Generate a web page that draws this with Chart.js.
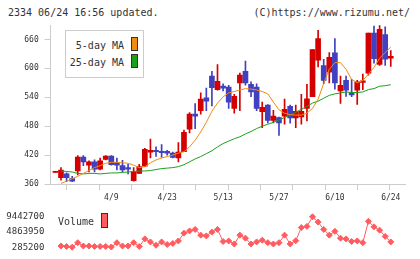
<!DOCTYPE html>
<html>
<head>
<meta charset="utf-8">
<script src="https://cdn.jsdelivr.net/npm/chart.js@4.4.1/dist/chart.umd.min.js"></script>
<style>
  body { margin: 0; background: #fff; font-family: "DejaVu Sans Mono", monospace; color: #333; }
  #wrap { position: relative; width: 420px; height: 259px; overflow: hidden; }
  canvas { position: absolute; left: 0; }
  #priceChart { top: 0; }
  #volumeChart { top: 205px; }
  .txt { position: absolute; font-size: 10px; line-height: 12px; white-space: pre; }
  #legend { position: absolute; left: 65px; top: 30px; width: 79px; height: 48px; box-sizing: border-box;
            border: 1px solid #ccc; background: #fff; }
  .swatch { position: absolute; box-sizing: border-box; border: 1px solid #333; }
</style>
</head>
<body>
<div id="wrap">
  <div class="txt" style="left:8px;top:7px">2334 06/24 16:56 updated.</div>
  <div class="txt" style="right:10px;top:7px">(C)https://www.rizumu.net/</div>
  <canvas id="priceChart" width="420" height="205"></canvas>
  <canvas id="volumeChart" width="420" height="54"></canvas>
  <div id="legend"></div>
  <div id="volLegend"></div>
</div>
<script>
// trading days (first one only shows as a doji stub)
const dates = ["3/26", "3/27", "3/28", "3/29", "4/1", "4/2", "4/3", "4/4", "4/5", "4/8", "4/9",
  "4/10", "4/11", "4/12", "4/15", "4/16", "4/17", "4/18", "4/19", "4/22", "4/23",
  "4/24", "4/25", "4/26", "4/30", "5/1", "5/2", "5/7", "5/8", "5/9", "5/13",
  "5/14", "5/15", "5/16", "5/17", "5/20", "5/21", "5/22", "5/23", "5/24", "5/27",
  "5/28", "5/29", "5/30", "5/31", "6/3", "6/4", "6/5", "6/6", "6/7", "6/10",
  "6/11", "6/12", "6/13", "6/14", "6/17", "6/18", "6/19", "6/20", "6/21", "6/24"];

const opens = [384, 373, 381, 371, 387, 416, 399, 406, 391, 411, 418,
  405, 398, 394, 367, 382, 397, 426, 430, 428, 428,
  424, 414, 427, 474, 505, 512, 539, 584, 556, 563,
  561, 517, 570, 594, 567, 561, 510, 524, 492, 498,
  501, 521, 497, 499, 517, 541, 617, 606, 592, 632,
  553, 575, 549, 555, 571, 590, 673, 608, 670, 621];
const highs = [384, 394, 383, 376, 419, 419, 408, 410, 414, 419, 419,
  414, 409, 401, 394, 401, 434, 453, 437, 442, 430,
  426, 446, 472, 508, 527, 549, 559, 594, 608, 568,
  565, 546, 590, 615, 572, 568, 530, 525, 513, 499,
  536, 524, 524, 546, 567, 639, 679, 619, 633, 662,
  584, 584, 577, 575, 588, 673, 688, 689, 686, 637];
const lows = [384, 368, 365, 365, 379, 398, 385, 385, 389, 410, 399,
  389, 385, 381, 366, 382, 396, 414, 417, 415, 420,
  414, 406, 427, 466, 475, 505, 512, 522, 555, 553,
  517, 507, 512, 565, 541, 512, 477, 487, 487, 461,
  484, 486, 477, 484, 491, 541, 603, 568, 570, 557,
  527, 542, 541, 525, 556, 586, 611, 606, 606, 604];
const closes = [384, 389, 373, 366, 416, 406, 406, 391, 408, 418, 400,
  399, 389, 391, 385, 396, 432, 430, 427, 425, 424,
  415, 426, 467, 505, 501, 536, 532, 560, 573, 559,
  530, 542, 586, 570, 551, 517, 519, 492, 501, 487,
  515, 497, 511, 511, 537, 639, 662, 575, 623, 570,
  565, 555, 545, 572, 574, 673, 620, 681, 619, 625];

const ma5 = [null, 361, 366, 371, 376, 382, 388, 394, 398, 403, 405,
  405, 404, 403, 399, 394, 396, 404, 410, 414, 417,
  420, 424, 427, 437, 451, 468, 488, 511, 528, 541,
  549, 552, 555, 558, 557, 555, 552, 547, 530, 514,
  507, 504, 503, 503, 507, 517, 536, 569, 598, 612,
  612, 598, 577, 570, 575, 588, 602, 621, 633, 644];
const ma25 = [null, 387, 386, 385, 382, 381, 382, 382, 381, 382, 383,
  383, 384, 385, 386, 387, 387, 388, 390, 392, 393,
  394, 396, 400, 406, 412, 417, 423, 429, 437, 444,
  449, 454, 458, 464, 469, 475, 480, 484, 488, 493,
  498, 503, 509, 515, 521, 528, 532, 538, 544, 547,
  549, 551, 550, 550, 551, 556, 558, 563, 564, 566];

const volumes = [null, 650000, 512000, 285200, 1648000, 649000, 649000, 512000, 512000, 512000, 353000,
  1648000, 649000, 649000, 1648000, 512000, 2784000, 1875000, 876000, 1875000, 1103000,
  1421000, 2171000, 4511000, 5193000, 5647000, 3920000, 3693000, 4829000, 5647000, 2012000,
  2171000, 1262000, 3920000, 3011000, 1262000, 1875000, 2398000, 1648000, 1262000, 1648000,
  3920000, 1262000, 2239000, 6192000, 6556000, 9442700, 7851000, 5647000, 3920000, 5056000,
  3011000, 2784000, 2012000, 2171000, 1648000, 8078000, 6419000, 5420000, 3534000, 1875000];

const priceTicks = [360, 420, 480, 540, 600, 660];
const volumeTicks = [285200, 4863950, 9442700];
const dateTickIndex = [10, 20, 30, 40, 50, 60];

const UP = "#d40000";
const DOWN = "#4040c0";
const FONT = "'DejaVu Sans Mono', monospace";
const NARROW = "'Liberation Sans Narrow', 'DejaVu Sans Mono', monospace";
const AXIS = "#cccccc";

// x range in candle units so the candles land where the original puts them
const X_MIN = -0.843;
const X_MAX = 62.67;

const candleColors = closes.map((c, i) => (c >= opens[i] ? UP : DOWN));
const toPoints = (arr) => arr.map((v, i) => ({ x: i, y: v })).filter((p) => p.y !== null);

const priceChart = new Chart(document.getElementById("priceChart"), {
  type: "bar",
  data: {
    datasets: [
      {
        data: dates.map((d, i) => ({ x: i, y: [lows[i], highs[i]] })),
        backgroundColor: candleColors,
        barThickness: 1,
        grouped: false,
        order: 3,
      },
      {
        data: dates.map((d, i) => ({ x: i, y: [opens[i], closes[i]] })),
        backgroundColor: candleColors,
        barThickness: 5,
        minBarLength: 1,
        grouped: false,
        order: 2,
      },
      {
        type: "line",
        label: "5-day MA",
        data: toPoints(ma5),
        borderColor: "#f08c10",
        backgroundColor: "#f08c10",
        borderWidth: 1,
        pointRadius: 0,
        order: 1,
      },
      {
        type: "line",
        label: "25-day MA",
        data: toPoints(ma25),
        borderColor: "#1ca01c",
        backgroundColor: "#1ca01c",
        borderWidth: 1,
        pointRadius: 0,
        order: 1,
      },
    ],
  },
  options: {
    responsive: false,
    animation: false,
    devicePixelRatio: 1,
    layout: { padding: { left: 0, right: 14.3, top: 25, bottom: 0 } },
    plugins: { legend: { display: false }, tooltip: { enabled: false } },
    scales: {
      x: {
        type: "linear",
        position: "bottom",
        min: X_MIN,
        max: X_MAX,
        offset: false,
        weight: 1,
        grid: { display: false, drawTicks: false },
        border: { display: false },
        afterBuildTicks: (s) => { s.ticks = dateTickIndex.map((v) => ({ value: v })); },
        afterFit: (s) => { s.height = 15; },
        ticks: {
          padding: 3,
          maxRotation: 0,
          autoSkip: false,
          color: "#333",
          font: { family: FONT, size: 8 },
          callback: (v) => dates[v],
        },
      },
      marks: {
        type: "linear",
        position: "bottom",
        min: 0,
        max: 11,
        offset: false,
        weight: 0,
        ticks: { display: false, stepSize: 1 },
        grid: { drawOnChartArea: false, drawTicks: true, tickLength: 6, color: AXIS },
        border: { display: true, color: AXIS },
        afterFit: (s) => { s.height = 6; },
      },
      y: {
        type: "linear",
        position: "left",
        min: 360,
        max: 690,
        afterBuildTicks: (s) => { s.ticks = priceTicks.map((v) => ({ value: v })); },
        afterFit: (s) => { s.width = 50.7; },
        grid: { drawOnChartArea: false, drawTicks: true, tickLength: 6, color: AXIS },
        border: { color: AXIS },
        ticks: { padding: 6, color: "#333", font: { family: FONT, size: 8 } },
      },
    },
  },
});

const volumeChart = new Chart(document.getElementById("volumeChart"), {
  type: "line",
  data: {
    datasets: [
      {
        label: "Volume",
        data: toPoints(volumes),
        borderColor: "#ff5c60",
        backgroundColor: "#ff5c60",
        borderWidth: 1,
        pointStyle: "rectRot",
        pointRadius: 3,
        pointBorderWidth: 1,
        clip: false,
      },
    ],
  },
  options: {
    responsive: false,
    animation: false,
    devicePixelRatio: 1,
    layout: { padding: { left: 0, right: 14.3, top: 4, bottom: 9.7 } },
    plugins: { legend: { display: false }, tooltip: { enabled: false } },
    scales: {
      x: { type: "linear", min: X_MIN, max: X_MAX, display: false },
      y: {
        type: "linear",
        min: volumeTicks[0],
        max: volumeTicks[volumeTicks.length - 1],
        afterBuildTicks: (s) => { s.ticks = volumeTicks.map((v) => ({ value: v })); },
        afterFit: (s) => { s.width = 50.7; },
        grid: { display: false, drawTicks: false },
        border: { display: false },
        ticks: {
          padding: 6.4,
          color: "#333",
          font: { family: NARROW, size: 9 },
          callback: (v) => String(v),
        },
      },
    },
  },
});

// html legends built from the chart datasets
function legendItem(parent, text, color, textRight, textTop, boxLeft, boxTop, boxW, boxH) {
  const t = document.createElement("div");
  t.className = "txt";
  t.textContent = text;
  t.style.left = "0px";
  t.style.width = textRight + "px";
  t.style.textAlign = "right";
  t.style.top = textTop + "px";
  parent.appendChild(t);
  const b = document.createElement("div");
  b.className = "swatch";
  b.style.left = boxLeft + "px";
  b.style.top = boxTop + "px";
  b.style.width = boxW + "px";
  b.style.height = boxH + "px";
  b.style.background = color;
  parent.appendChild(b);
}

const legendEl = document.getElementById("legend");
priceChart.data.datasets
  .filter((ds) => ds.label)
  .forEach((ds, k) => {
    legendItem(legendEl, ds.label, ds.borderColor, 58, 9 + k * 17, 65, 6 + k * 17, 7, 14);
  });

const volEl = document.getElementById("volLegend");
const vds = volumeChart.data.datasets[0];
legendItem(volEl, vds.label, vds.borderColor, 94, 216, 101, 213, 7, 15);
</script>
</body>
</html>
